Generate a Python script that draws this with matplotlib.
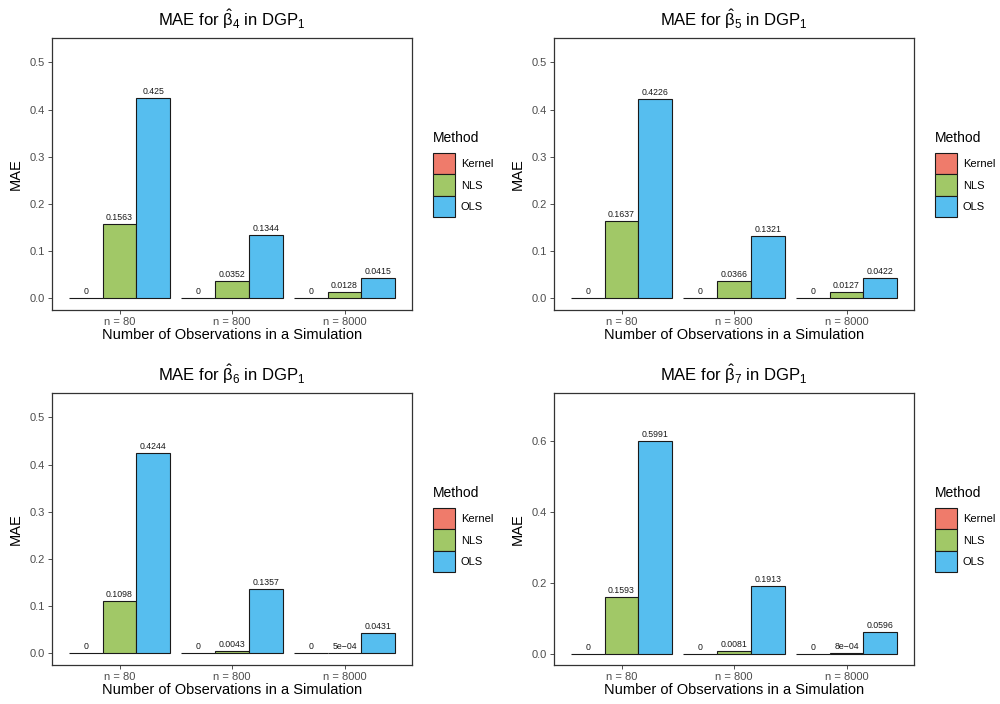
import numpy as np
import matplotlib
matplotlib.use('Agg')
import matplotlib.pyplot as plt
from matplotlib.patches import Patch

plt.rcParams['font.family'] = ['Liberation Sans', 'DejaVu Sans']
plt.rcParams['mathtext.fontset'] = 'custom'
plt.rcParams['mathtext.rm'] = 'Liberation Sans'
plt.rcParams['mathtext.it'] = 'Liberation Sans'

# data
groups = ['n = 80', 'n = 800', 'n = 8000']
methods = ['Kernel', 'NLS', 'OLS']
colors = ['#EF7B6B', '#A1C867', '#56BEEF']

betas = ['4', '5', '6', '7']
kernel_vals = [[0, 0, 0], [0, 0, 0], [0, 0, 0], [0, 0, 0]]
nls_vals = [[0.1563, 0.0352, 0.0128],
            [0.1637, 0.0366, 0.0127],
            [0.1098, 0.0043, 0.0005],
            [0.1593, 0.0081, 0.0008]]
ols_vals = [[0.425, 0.1344, 0.0415],
            [0.4226, 0.1321, 0.0422],
            [0.4244, 0.1357, 0.0431],
            [0.5991, 0.1913, 0.0596]]
nls_labels = [['0.1563', '0.0352', '0.0128'],
              ['0.1637', '0.0366', '0.0127'],
              ['0.1098', '0.0043', '5e\u221204'],
              ['0.1593', '0.0081', '8e\u221204']]
ols_labels = [['0.425', '0.1344', '0.0415'],
              ['0.4226', '0.1321', '0.0422'],
              ['0.4244', '0.1357', '0.0431'],
              ['0.5991', '0.1913', '0.0596']]

ylims = [(-0.0255, 0.552), (-0.0255, 0.552), (-0.0255, 0.552), (-0.032, 0.734)]
yticks = [np.arange(0, 0.51, 0.1)] * 3 + [np.arange(0, 0.61, 0.2)]

fig = plt.figure(figsize=(10, 7.04), dpi=100)
W, H = 1000, 704
boxes = [(52, 38), (554, 38), (52, 393), (554, 393)]
aw, ah = 360, 272

for i, (x0, y0) in enumerate(boxes):
    ax = fig.add_axes([x0 / W, 1 - (y0 + ah) / H, aw / W, ah / H])
    x = np.arange(1, 4)
    w = 0.3
    series = [kernel_vals[i], nls_vals[i], ols_vals[i]]
    labels = [['0', '0', '0'], nls_labels[i], ols_labels[i]]
    for j, (vals, col) in enumerate(zip(series, colors)):
        xs = x + (j - 1) * w
        ax.bar(xs, vals, width=w, color=col, edgecolor='#1a1a1a', linewidth=0.8)
        for xx, v, lab in zip(xs, vals, labels[j]):
            ax.annotate(lab, (xx, v), xytext=(0, 1.5), textcoords='offset points',
                        ha='center', va='bottom', fontsize=6.3, color='#1a1a1a')
    ax.set_xlim(0.4, 3.6)
    ax.set_ylim(*ylims[i])
    ax.set_xticks(x)
    ax.set_xticklabels(groups)
    ax.set_yticks(yticks[i])
    ax.set_yticklabels([f'{t:.1f}' for t in yticks[i]])
    ax.tick_params(labelsize=8, colors='#333333', labelcolor='#4d4d4d',
                   length=3, width=0.6, pad=2)
    for s in ax.spines.values():
        s.set_linewidth(0.9)
        s.set_color('#333333')
    ax.set_xlabel('Number of Observations in a Simulation', fontsize=10.5, labelpad=1)
    ax.set_ylabel('MAE', fontsize=10.5, labelpad=5)
    ax.set_title(r'MAE for $\hat{\beta}_{' + betas[i] + r'}$ in DGP$_1$', fontsize=12, pad=9)

    handles = [Patch(facecolor=c, edgecolor='#1a1a1a', linewidth=0.8) for c in colors]
    leg = ax.legend(handles, methods, title='Method', loc='center left',
                    bbox_to_anchor=(1.058, 0.50), frameon=False, fontsize=8,
                    title_fontsize=10, handlelength=2.0, handleheight=2.6,
                    labelspacing=0.0, handletextpad=0.5, borderpad=0.0,
                    borderaxespad=0.0)
    leg._legend_box.align = 'left'
    leg._legend_box.sep = 6

fig.savefig('out.png', dpi=100)
